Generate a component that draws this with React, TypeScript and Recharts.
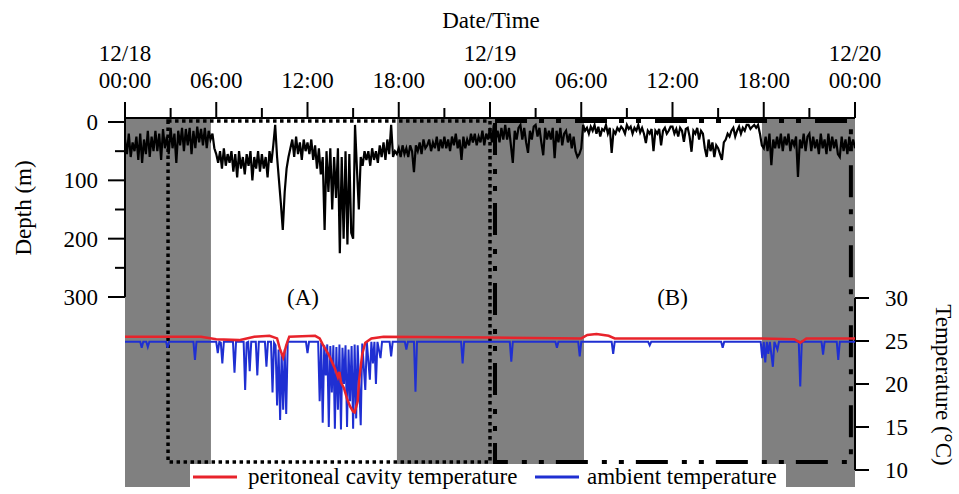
import React from 'react';
import {
  ComposedChart,
  Line,
  XAxis,
  YAxis,
  ReferenceArea,
  ReferenceLine,
  ReferenceDot,
  Legend,
} from 'recharts';

// top axis: a tick every 3 h, labels on the 6 h ticks
const tickHours = [0, 3, 6, 9, 12, 15, 18, 21, 24, 27, 30, 33, 36, 39, 42, 45, 48];
const tickDates = ['12/18', '', '', '', '12/19', '', '', '', '12/20'];
const tickTimes = ['00:00', '06:00', '12:00', '18:00', '00:00', '06:00', '12:00', '18:00', '00:00'];
const depthTicks = [0, 50, 100, 150, 200, 250, 300];
const tempTicks = [10, 15, 20, 25, 30];

// night periods (hours from 12/18 00:00)
const nightStarts = [0, 17.88, 41.88];
const nightEnds = [5.65, 30.18, 48];

// depth (m), one reading every 7.5 min (8 per row = 1 hour)
const depthStep = 0.125;
const depthValues = [
  30, 55, 20, 60, 35, 50, 25, 65,
  20, 70, 30, 55, 15, 60, 25, 50,
  15, 50, 20, 65, 12, 45, 25, 55,
  10, 45, 20, 70, 15, 40, 10, 50,
  12, 40, 10, 55, 15, 45, 8, 35,
  12, 40, 10, 45, 15, 30, 20, 45,
  55, 70, 50, 80, 45, 75, 55, 70,
  50, 85, 55, 95, 50, 80, 60, 90,
  55, 75, 50, 100, 60, 80, 50, 85,
  55, 80, 60, 95, 50, 70, 40, 5,
  60, 100, 140, 185, 120, 80, 60, 45,
  30, 60, 25, 55, 35, 65, 30, 50,
  35, 55, 30, 65, 40, 80, 45, 90,
  60, 185, 50, 120, 45, 150, 60, 130,
  45, 225, 60, 200, 50, 210, 55, 190,
  200, 5, 80, 150, 60, 75, 50, 65,
  50, 75, 45, 65, 50, 70, 40, 60,
  35, 65, 30, 55, 5, 60, 50, 55,
  45, 60, 40, 55, 45, 60, 40, 50,
  86, 40, 50, 35, 55, 30, 45, 40,
  30, 50, 35, 45, 25, 50, 30, 45,
  25, 45, 30, 50, 25, 40, 20, 45,
  30, 65, 25, 45, 30, 40, 20, 35,
  20, 40, 25, 35, 15, 40, 20, 30,
  10, 35, 5, 30, 15, 35, 10, 30,
  5, 30, 10, 40, 70, 15, 30, 10,
  5, 30, 10, 35, 53, 15, 30, 8,
  5, 25, 10, 35, 57, 10, 30, 15,
  30, 10, 62, 15, 35, 10, 40, 20,
  15, 35, 20, 45, 25, 50, 60, 55,
  45, 5, 15, 10, 20, 8, 15, 5,
  20, 8, 25, 12, 15, 5, 20, 10,
  53, 15, 20, 10, 15, 8, 12, 20,
  5, 12, 8, 20, 10, 15, 5, 18,
  10, 20, 36, 15, 20, 12, 50, 15,
  20, 12, 40, 15, 10, 20, 15, 8,
  8, 20, 12, 25, 10, 15, 34, 12,
  10, 25, 51, 15, 20, 10, 30, 15,
  20, 45, 60, 30, 50, 35, 60, 40,
  45, 55, 65, 35, 30, 20, 25, 15,
  10, 25, 15, 8, 20, 10, 15, 5,
  5, 12, 8, 5, 10, 5, 20, 40,
  45, 25, 50, 20, 74, 30, 45, 25,
  45, 20, 50, 25, 40, 20, 50, 30,
  40, 25, 94, 30, 45, 20, 50, 25,
  20, 50, 25, 45, 30, 55, 20, 45,
  30, 55, 20, 50, 25, 45, 30, 55,
  60, 25, 50, 30, 55, 25, 45, 30,
  45,
];

// peritoneal cavity temperature (°C)
const periHours = [
  0, 5.0, 6.0, 7.5, 8.5, 9.5, 10.0, 10.2, 10.4, 10.6, 10.8,
  12.5, 12.8, 13.0, 13.2, 13.4, 13.6, 13.8, 14.0, 14.1, 14.2, 14.4, 14.6, 14.8,
  15.0, 15.1, 15.3, 15.4, 15.6, 15.8, 16.2, 17.0, 24.0,
  30.0, 30.4, 31.0, 31.8, 32.2, 41.5, 44.0, 44.4, 44.8, 48,
];
const periTemps = [
  25.5, 25.5, 25.2, 25.1, 25.5, 25.6, 25.3, 24.0, 23.1, 24.5, 25.5,
  25.6, 25.3, 24.6, 24.0, 23.4, 22.6, 21.8, 20.8, 21.4, 20.2, 19.5, 18.3, 17.4,
  16.8, 16.7, 18.0, 20.5, 23.5, 24.8, 25.3, 25.5, 25.4,
  25.3, 25.7, 25.8, 25.6, 25.3, 25.3, 25.2, 24.8, 25.3, 25.3,
];

// ambient temperature (°C)
const ambientHours = [
  0, 1.0, 1.1, 1.2, 1.4, 1.5, 1.6, 2.7, 2.8, 2.9,
  4.5, 4.6, 4.7, 6.0, 6.1, 6.2, 6.3, 6.4, 6.5, 7.1,
  7.2, 7.3, 7.8, 7.9, 8.0, 8.1, 8.2, 8.3, 8.6, 8.7,
  8.8, 9.2, 9.3, 9.4, 9.6, 9.7, 9.8, 9.9, 10.0, 10.1,
  10.2, 10.3, 10.4, 10.5, 10.6, 10.7, 11.9, 12.0, 12.1, 12.7,
  12.8, 12.9, 13.0, 13.1, 13.2, 13.3, 13.4, 13.5, 13.6, 13.7,
  13.8, 13.9, 14.0, 14.1, 14.2, 14.3, 14.4, 14.5, 14.6, 14.7,
  14.8, 14.9, 15.0, 15.1, 15.2, 15.3, 15.5, 15.6, 15.8, 15.9,
  16.1, 16.2, 16.3, 16.4, 16.5, 16.6, 16.8, 16.9, 17.4, 17.5,
  17.6, 18.4, 18.5, 18.6, 19.0, 19.1, 19.2, 22.1, 22.2, 22.3,
  25.3, 25.4, 25.5, 28.3, 28.4, 28.5, 29.8, 29.9, 30.0, 32.0,
  32.1, 32.2, 34.4, 34.5, 34.6, 39.2, 39.3, 39.4, 41.8, 41.9,
  42.0, 42.1, 42.2, 42.3, 42.4, 42.6, 42.7, 42.9, 43.0, 44.3,
  44.4, 44.5, 45.8, 45.9, 46.0, 46.8, 46.9, 47.0, 48,
];
const ambientTemps = [
  24.9, 24.9, 24.2, 24.9, 24.9, 24.3, 24.9, 24.9, 24.2, 24.9,
  24.9, 22.8, 24.9, 24.9, 23.6, 24.9, 24.8, 22.4, 24.9, 24.9,
  21.3, 24.9, 24.9, 19.3, 24.8, 24.9, 21.5, 24.9, 24.9, 21.0,
  24.9, 24.9, 22.0, 24.9, 24.9, 19.0, 24.8, 24.5, 17.5, 24.0,
  15.8, 23.5, 17.0, 24.0, 16.5, 24.9, 24.9, 23.6, 24.9, 24.9,
  18.0, 24.8, 15.5, 24.5, 21.0, 24.6, 15.0, 24.4, 19.0, 24.5,
  14.8, 24.3, 17.0, 24.6, 14.7, 24.2, 20.0, 24.5, 15.0, 24.0,
  18.0, 24.4, 14.8, 24.6, 16.0, 24.5, 15.2, 24.7, 19.3, 24.9,
  20.5, 24.9, 22.4, 24.9, 20.0, 24.9, 23.0, 24.9, 24.9, 23.2,
  24.9, 24.9, 24.0, 24.9, 24.9, 19.1, 24.9, 24.9, 22.4, 24.9,
  24.9, 22.6, 24.9, 24.9, 24.2, 24.9, 24.9, 23.2, 24.9, 24.9,
  23.5, 24.9, 24.9, 24.5, 24.9, 24.9, 24.2, 24.9, 24.9, 23.0,
  24.9, 22.5, 24.9, 23.5, 24.9, 22.0, 24.9, 24.0, 24.9, 24.9,
  19.7, 24.9, 24.9, 23.4, 24.9, 24.9, 22.8, 24.9, 24.9,
];

const legendOrder = ['peritoneal cavity temperature', 'ambient temperature'];

const depthData = depthValues.map((v, i) => ({ t: i * depthStep, v }));
const periData = periHours.map((t, i) => ({ t, v: periTemps[i] }));
const ambientData = ambientHours.map((t, i) => ({ t, v: ambientTemps[i] }));

const FONT = '"Liberation Serif", "Times New Roman", serif';

const TimeTick = (props: any) => {
  const { x, y, payload } = props;
  const h = payload.value;
  const major = h % 6 === 0;
  const i = h / 6;
  return (
    <g>
      <line x1={x} x2={x} y1={y} y2={y - (major ? 16 : 10)} stroke="#000" strokeWidth={2} />
      {major && tickDates[i] ? (
        <text x={x} y={61} textAnchor="middle" fontSize={23} fill="#000">
          {tickDates[i]}
        </text>
      ) : null}
      {major ? (
        <text x={x} y={88} textAnchor="middle" fontSize={23} fill="#000">
          {tickTimes[i]}
        </text>
      ) : null}
    </g>
  );
};

const DepthTick = (props: any) => {
  const { x, y, payload } = props;
  const major = payload.value % 100 === 0;
  return (
    <g>
      <line x1={x - (major ? 17 : 10)} x2={x} y1={y} y2={y} stroke="#000" strokeWidth={2} />
      {major ? (
        <text x={x - 27} y={y} dy="0.35em" textAnchor="end" fontSize={23} fill="#000">
          {payload.value}
        </text>
      ) : null}
    </g>
  );
};

const TempTick = (props: any) => {
  const { x, y, payload } = props;
  return (
    <g>
      <line x1={x} x2={x + 14} y1={y} y2={y} stroke="#000" strokeWidth={2} />
      <text x={x + 30} y={y} dy="0.35em" textAnchor="start" fontSize={23} fill="#000">
        {payload.value}
      </text>
    </g>
  );
};

const legendOffsets = [3, 345];

const LegendContent = (props: any) => {
  const items = (props.payload || [])
    .filter((p: any) => p.type !== 'none')
    .sort((a: any, b: any) => legendOrder.indexOf(a.value) - legendOrder.indexOf(b.value));
  return (
    <div style={{ position: 'relative', width: 596, height: 30, background: '#fff', fontSize: 23, fontFamily: FONT, color: '#000' }}>
      {items.map((p: any, i: number) => (
        <div
          key={p.value}
          style={{ position: 'absolute', left: legendOffsets[i], top: 0, height: 26, display: 'flex', alignItems: 'center', whiteSpace: 'nowrap' }}
        >
          <svg width={44} height={4}>
            <line x1={0} x2={44} y1={2} y2={2} stroke={p.color} strokeWidth={3} />
          </svg>
          <span style={{ marginLeft: i === 0 ? 11 : 8 }}>{p.value}</span>
        </div>
      ))}
    </div>
  );
};

export default function App() {
  return (
    <div style={{ position: 'absolute', left: 0, top: 0, fontFamily: FONT }}>
      <ComposedChart width={959} height={494} margin={{ top: 0, right: 0, bottom: 7, left: 0 }}>
        <XAxis
          type="number"
          dataKey="t"
          orientation="top"
          domain={[0, 48]}
          ticks={tickHours}
          interval={0}
          height={118}
          allowDataOverflow
          tickSize={0}
          tickMargin={0}
          tickLine={false}
          axisLine={{ stroke: '#000', strokeWidth: 2 }}
          tick={<TimeTick />}
          label={() => (
            <text x={491} y={28} textAnchor="middle" fontSize={23} fill="#000">
              Date/Time
            </text>
          )}
        />
        <YAxis
          yAxisId="depth"
          type="number"
          orientation="left"
          width={125}
          domain={[-6.857, 625.7]}
          reversed
          allowDataOverflow
          ticks={depthTicks}
          interval={0}
          tickSize={0}
          tickMargin={0}
          tickLine={false}
          axisLine={false}
          tick={<DepthTick />}
          label={() => (
            <text x={23} y={208} transform="rotate(-90 23 208)" textAnchor="middle" dominantBaseline="central" fontSize={23} fill="#000">
              Depth (m)
            </text>
          )}
        />
        <YAxis
          yAxisId="temp"
          type="number"
          orientation="right"
          width={104}
          domain={[8.02, 50.93]}
          allowDataOverflow
          ticks={tempTicks}
          interval={0}
          tickSize={0}
          tickMargin={0}
          tickLine={false}
          axisLine={false}
          tick={<TempTick />}
          label={() => (
            <text x={943} y={385} transform="rotate(90 943 385)" textAnchor="middle" dominantBaseline="central" fontSize={23} fill="#000">
              Temperature (°C)
            </text>
          )}
        />

        {nightStarts.map((s, i) => (
          <ReferenceArea key={s} yAxisId="depth" x1={s} x2={nightEnds[i]} fill="#808080" fillOpacity={1} stroke="none" />
        ))}

        <ReferenceLine yAxisId="depth" segment={[{ x: 0, y: -6.857 }, { x: 0, y: 300 }]} stroke="#000" strokeWidth={2} ifOverflow="visible" />
        <ReferenceLine yAxisId="temp" segment={[{ x: 48, y: 10 }, { x: 48, y: 30 }]} stroke="#000" strokeWidth={2} ifOverflow="visible" />

        <Line yAxisId="depth" data={depthData} dataKey="v" type="linear" stroke="#000" strokeWidth={2.2} dot={false} legendType="none" isAnimationActive={false} />
        <Line yAxisId="temp" data={ambientData} dataKey="v" name="ambient temperature" type="linear" stroke="#1f2fd2" strokeWidth={2} dot={false} isAnimationActive={false} />
        <Line yAxisId="temp" data={periData} dataKey="v" name="peritoneal cavity temperature" type="linear" stroke="#e8232b" strokeWidth={2.5} dot={false} isAnimationActive={false} />

        <ReferenceArea yAxisId="depth" x1={2.83} x2={24} y1={-1.7} y2={583} fill="none" stroke="#000" strokeWidth={3.5} strokeDasharray="3.5 3.5" ifOverflow="visible" />
        <ReferenceArea yAxisId="depth" x1={24.33} x2={47.73} y1={-1.7} y2={583} fill="none" stroke="#000" strokeWidth={4} strokeDasharray="32 12 5 12 5 14" ifOverflow="visible" />

        <ReferenceDot yAxisId="depth" x={11.7} y={300} r={0} fill="none" stroke="none" label={{ value: '(A)', position: 'center', fontSize: 23, fill: '#000' }} />
        <ReferenceDot yAxisId="depth" x={36.0} y={300} r={0} fill="none" stroke="none" label={{ value: '(B)', position: 'center', fontSize: 23, fill: '#000' }} />

        <Legend
          layout="vertical"
          align="center"
          verticalAlign="middle"
          wrapperStyle={{ left: 190, top: 464, width: 596, height: 30 }}
          content={<LegendContent />}
        />
      </ComposedChart>
    </div>
  );
}
